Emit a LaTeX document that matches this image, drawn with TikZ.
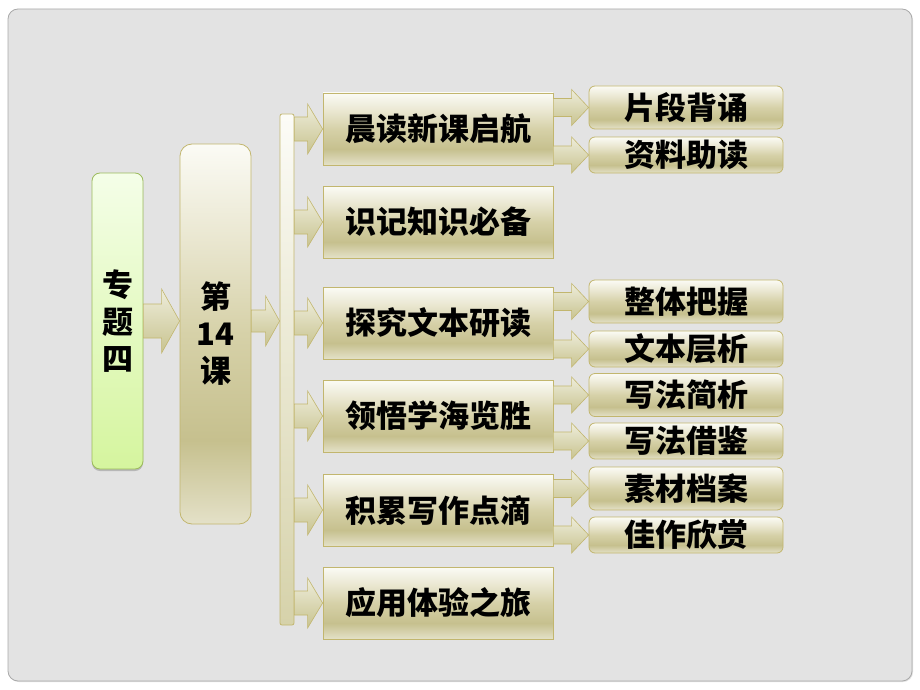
\documentclass[tikz,border=0pt]{standalone}
\usepackage{fontspec}
\newfontfamily\cjk{Noto Sans CJK SC}
\usetikzlibrary{calc,shadows}
\definecolor{kt}{HTML}{FBFBF5}
\definecolor{kmA}{HTML}{E9E6CF}
\definecolor{kmB}{HTML}{D6D1A8}
\definecolor{km}{HTML}{C6C08E}
\definecolor{kb}{HTML}{E4E1C8}
\definecolor{kborder}{HTML}{C2B66E}
\definecolor{gt}{HTML}{F4FEE8}
\definecolor{gb}{HTML}{D5F59E}
\definecolor{gborder}{HTML}{9CBB5C}
\definecolor{bg}{HTML}{E3E3E3}
\definecolor{bgborder}{HTML}{A9A9A9}
\definecolor{arrt}{HTML}{EEEDDB}
\definecolor{arrb}{HTML}{C8C38F}
\definecolor{bart}{HTML}{FCFCF7}
\definecolor{barb}{HTML}{D6D2AA}
\pgfdeclareverticalshading{khaki}{100bp}{color(0bp)=(kb); color(25bp)=(kb); color(36bp)=(km); color(50bp)=(kmB); color(62bp)=(kmA); color(75bp)=(kt); color(100bp)=(kt)}
\tikzset{
  cjktext/.style={font=\cjk\bfseries\fontsize{31}{37}\selectfont, text=black, align=center},
  khakibox/.style={draw=kborder, line width=0.8pt, shade, shading=khaki, inner sep=0pt, cjktext},
  midbox/.style={khakibox, minimum width=230pt, minimum height=72pt},
  subbox/.style={khakibox, rounded corners=6pt, minimum width=194pt},
  tallsub/.style={subbox, minimum height=43pt},
  shortsub/.style={subbox, minimum height=36pt},
  greenbox/.style={draw=gborder, line width=0.8pt, top color=gt, bottom color=gb, rounded corners=8pt,
    minimum width=51pt, minimum height=296pt, inner sep=0pt, cjktext,
    drop shadow={shadow xshift=0pt, shadow yshift=-2pt, opacity=0.35, fill=black!60}},
  lessonbox/.style={khakibox, rounded corners=12pt, minimum width=71pt, minimum height=380pt},
  barbox/.style={draw=kborder, line width=0.8pt, top color=bart, bottom color=barb, rounded corners=2pt,
    minimum width=14pt, minimum height=511pt, inner sep=0pt},
  blockarrow/.style={draw=kborder, line width=0.6pt, top color=arrt, bottom color=arrb},
  frame/.style={draw=bgborder, line width=0.8pt, fill=bg, rounded corners=10pt,
    drop shadow={shadow xshift=1pt, shadow yshift=-1pt, opacity=0.25, fill=black!50}}
}
% from, to, shaft half-height, head half-height, head length
\newcommand{\blockarr}[5]{%
  \path[blockarrow] let \p1=(#1), \p2=(#2) in
    (\x1,\y1+#3) -- (\x2-#5,\y1+#3) -- (\x2-#5,\y1+#4) -- (\x2,\y1)
    -- (\x2-#5,\y1-#4) -- (\x2-#5,\y1-#3) -- (\x1,\y1-#3) -- cycle;}
\begin{document}
\begin{tikzpicture}[x=1pt, y=-1pt]
  \useasboundingbox (0,0) rectangle (920,690);
  \path[frame] (8,9) rectangle (912,681);

  \node[greenbox]  (zt)  at (117.5,321) {专\\题\\四};
  \node[lessonbox] (ke)  at (215.5,334) {第\\14\\课};
  \node[barbox]    (bar) at (287,369.5) {};

  \node[midbox] (m1) at (438,129) {晨读新课启航};
  \node[midbox] (m2) at (438,222) {识记知识必备};
  \node[midbox] (m3) at (438,323) {探究文本研读};
  \node[midbox] (m4) at (438,416) {领悟学海览胜};
  \node[midbox] (m5) at (438,510) {积累写作点滴};
  \node[midbox] (m6) at (438,603) {应用体验之旅};

  \node[tallsub]  (r1) at (686,107.5) {片段背诵};
  \node[shortsub] (r2) at (686,155)   {资料助读};
  \node[tallsub]  (r3) at (686,301.5) {整体把握};
  \node[shortsub] (r4) at (686,349)   {文本层析};
  \node[tallsub]  (r5) at (686,395)   {写法简析};
  \node[shortsub] (r6) at (686,441)   {写法借鉴};
  \node[tallsub]  (r7) at (686,488.5) {素材档案};
  \node[shortsub] (r8) at (686,535)   {佳作欣赏};

  \blockarr{zt.east}{ke.west |- zt.east}{17pt}{32pt}{18pt}
  \blockarr{ke.east |- zt.east}{bar.west |- zt.east}{11pt}{25pt}{14pt}
  \foreach \i in {1,...,6}{
    \blockarr{bar.east |- m\i.west}{m\i.west}{12pt}{25pt}{15pt}
  }
  \blockarr{m1.east |- r1.west}{r1.west}{9pt}{18pt}{17pt}
  \blockarr{m1.east |- r2.west}{r2.west}{9pt}{18pt}{17pt}
  \blockarr{m3.east |- r3.west}{r3.west}{9pt}{18pt}{17pt}
  \blockarr{m3.east |- r4.west}{r4.west}{9pt}{18pt}{17pt}
  \blockarr{m4.east |- r5.west}{r5.west}{9pt}{18pt}{17pt}
  \blockarr{m4.east |- r6.west}{r6.west}{9pt}{18pt}{17pt}
  \blockarr{m5.east |- r7.west}{r7.west}{9pt}{18pt}{17pt}
  \blockarr{m5.east |- r8.west}{r8.west}{9pt}{18pt}{17pt}
\end{tikzpicture}
\end{document}
